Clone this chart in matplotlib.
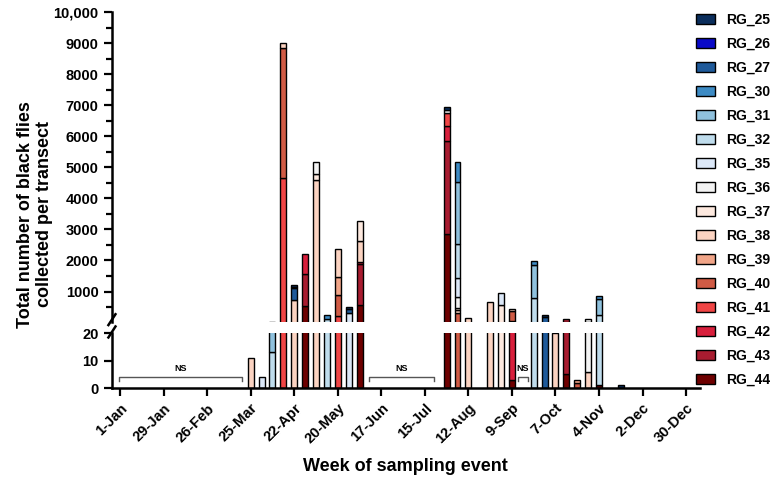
import numpy as np
import matplotlib.pyplot as plt
from matplotlib.patches import Patch

plt.rcParams['font.family'] = ['Liberation Sans', 'DejaVu Sans']
plt.rcParams['font.weight'] = 'bold'

# week index (0 = 1-Jan) of each sampling event with flies
weeks = [12, 13, 14, 15, 16, 17, 18, 19, 20, 21, 22, 30, 31, 32, 34, 35, 36, 38, 39, 40, 41, 42, 43, 44, 46]

#         12  13  14    15   16    17    18   19   20   21    22    30    31   32   34   35   36    38   39  40  41 42  43   44 46
rg_25 = [0,  0,  0,    0,   60,   0,    0,   0,   0,   60,   0,    90,   0,   0,   0,   0,   0,    0,   60, 0,  0, 0,  0,   0, 1]
rg_26 = [0,  0,  0,    0,   60,   0,    0,   0,   0,   0,    0,    0,    0,   0,   0,   0,   0,    0,   0,  0,  0, 0,  0,   0, 0]
rg_27 = [0,  0,  0,    0,   380,  0,    0,   0,   0,   120,  0,    0,    0,   0,   0,   0,   0,    0,   170, 0, 0, 0,  0,   0, 0]
rg_30 = [0,  0,  0,    0,   0,    0,    0,   110, 0,   0,    0,    0,    650, 0,   0,   0,   0,    110, 0,  0,  0, 0,  0,   120, 0]
rg_31 = [0,  0,  20,   0,   0,    0,    0,   0,   0,   0,    0,    0,    2000, 0,  0,   0,   0,    1070, 0, 0,  0, 0,  0,   500, 0]
rg_32 = [0,  0,  13,   0,   0,    0,    0,   130, 0,   0,    0,    0,    1100, 0,  0,   0,   0,    800, 0,  0,  0, 0,  0,   250, 0]
rg_35 = [0,  4,  0,    0,   0,    0,    0,   0,   0,   320,  0,    0,    580, 0,   0,   370, 0,    0,   0,  0,  0, 0,  0,   0, 0]
rg_36 = [0,  0,  0,    0,   0,    0,    400, 0,   0,   0,    0,    100,  360, 0,   0,   0,   0,    0,   0,  0,  0, 0,  95,  0, 0]
rg_37 = [0,  0,  0,    0,   0,    0,    190, 0,   0,   0,    640,  0,    60,  0,   0,   580, 0,    0,   0,  0,  0, 0,  0,   0, 0]
rg_38 = [11, 0,  0,    150, 720,  0,    4580, 0,  880, 0,    680,  0,    100, 150, 650, 0,   70,   0,   0,  20, 0, 0,  6,   0, 0]
rg_39 = [0,  0,  0,    0,   0,    0,    0,   0,   580, 0,    0,    0,    0,   0,   0,   0,   0,    0,   0,  0,  0, 1,  0,   0, 0]
rg_40 = [0,  0,  0,    4200, 0,   0,    0,   0,   680, 0,    0,    0,    320, 0,   0,   0,   320,  0,   0,  0,  0, 2,  0,   0, 0]
rg_41 = [0,  0,  0,    4650, 0,   0,    0,   0,   220, 0,    0,    420,  0,   0,   0,   0,   0,    0,   0,  0,  0, 0,  0,   0, 0]
rg_42 = [0,  0,  0,    0,   0,    650,  0,   0,   0,   0,    40,   480,  0,   0,   0,   0,   60,   0,   0,  0,  0, 0,  0,   0, 0]
rg_43 = [0,  0,  0,    0,   0,    1030, 0,   0,   0,   0,    1320, 3000, 0,   0,   0,   0,   0,    0,   0,  0,  95, 0, 0,   0, 0]
rg_44 = [0,  0,  0,    0,   0,    520,  0,   0,   0,   0,    580,  2840, 0,   0,   0,   0,   3,    0,   0,  0,  5, 0,  0,   1, 0]

groups = ['RG_25', 'RG_26', 'RG_27', 'RG_30', 'RG_31', 'RG_32', 'RG_35', 'RG_36',
          'RG_37', 'RG_38', 'RG_39', 'RG_40', 'RG_41', 'RG_42', 'RG_43', 'RG_44']
series = [rg_25, rg_26, rg_27, rg_30, rg_31, rg_32, rg_35, rg_36,
          rg_37, rg_38, rg_39, rg_40, rg_41, rg_42, rg_43, rg_44]
colors = ['#0b2e5c', '#0a0ac8', '#1f5a9a', '#3d8bc4', '#8fc1dd', '#bfdcec', '#dce8f8', '#f3f3f3',
          '#fde9df', '#fbd3c1', '#f1a588', '#d05b45', '#f04545', '#d81f3c', '#a81c30', '#6e0000']

tick_weeks = list(range(0, 53, 4))
tick_labels = ['1-Jan', '29-Jan', '26-Feb', '25-Mar', '22-Apr', '20-May', '17-Jun',
               '15-Jul', '12-Aug', '9-Sep', '7-Oct', '4-Nov', '2-Dec', '30-Dec']

fig = plt.figure(figsize=(7.72, 4.82), dpi=100)
ax_top = fig.add_axes([0.145, 0.332, 0.762, 0.643])
ax_bot = fig.add_axes([0.145, 0.195, 0.762, 0.114])

w = np.array(weeks)
for ax, lo in ((ax_top, 25), (ax_bot, 0)):
    bottom = np.zeros(len(weeks))
    # stack from RG_44 at the bottom up to RG_25
    for name, vals, col in zip(groups[::-1], series[::-1], colors[::-1]):
        v = np.array(vals, dtype=float)
        m = (v > 0) & (bottom + v > lo)   # segments hidden below the break are skipped
        ax.bar(w[m], v[m], 0.55, bottom=bottom[m], color=col, edgecolor='black', linewidth=1.0)
        bottom += v
    ax.set_xlim(-0.75, 53.3)
    for s in ['top', 'right']:
        ax.spines[s].set_visible(False)
    ax.spines['left'].set_linewidth(1.8)
    ax.tick_params(axis='y', width=1.6, length=6, labelsize=10.5)

ax_top.set_ylim(20, 10000)
ax_top.set_yticks(range(1000, 10001, 1000))
ax_top.set_yticklabels([str(v) for v in range(1000, 10000, 1000)] + ['10,000'])
ax_top.set_yticks(range(500, 10000, 1000), minor=True)
ax_top.tick_params(axis='y', which='minor', width=1.6, length=4)
ax_top.spines['bottom'].set_visible(False)
ax_top.set_xticks([])

ax_bot.set_ylim(0, 20)
ax_bot.set_yticks([0, 10, 20])
ax_bot.spines['bottom'].set_linewidth(1.8)
ax_bot.set_xticks(tick_weeks)
ax_bot.set_xticklabels(tick_labels, rotation=45, ha='right', rotation_mode='anchor', fontsize=10.5)
ax_bot.tick_params(axis='x', width=1.6, length=6)

# axis break marks
ax_top.plot([-0.006, 0.006], [-0.01, 0.025], transform=ax_top.transAxes, color='black', lw=1.8, clip_on=False)
ax_bot.plot([-0.006, 0.006], [0.92, 1.12], transform=ax_bot.transAxes, color='black', lw=1.8, clip_on=False)

# NS brackets
for x0, x1 in [(-0.1, 11.2), (22.9, 28.8), (36.55, 37.45)]:
    ax_bot.plot([x0, x0, x1, x1], [2.5, 4, 4, 2.5], color='#555555', lw=1.0)
    ax_bot.text((x0 + x1) / 2, 5.5, 'NS', ha='center', va='bottom', fontsize=6.5, fontweight='bold')

fig.text(0.045, 0.555, 'Total number of black flies\ncollected per transect', rotation=90,
         ha='center', va='center', fontsize=13, fontweight='bold', linespacing=1.15)
fig.text(0.525, 0.033, 'Week of sampling event', ha='center', va='center', fontsize=13, fontweight='bold')

handles = [Patch(facecolor=c, edgecolor='black', linewidth=1.0) for c in colors]
fig.legend(handles, groups, loc='upper left', bbox_to_anchor=(0.895, 0.985), frameon=False,
           fontsize=10, handlelength=1.3, handleheight=0.75, labelspacing=0.72, handletextpad=0.8,
           borderaxespad=0)

plt.savefig('out.png', dpi=100)
